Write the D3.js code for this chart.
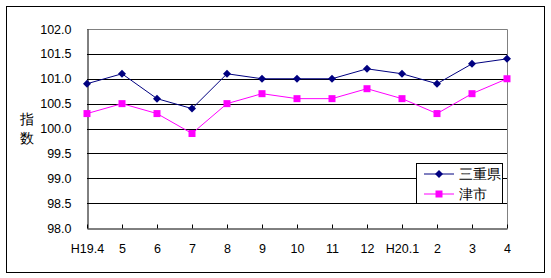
<!DOCTYPE html>
<html>
<head>
<meta charset="utf-8">
<script src="https://cdn.jsdelivr.net/npm/d3@7"></script>
<style>
  body { margin: 0; background: #fff; }
  text { font-family: "Liberation Sans", Arial, sans-serif; }
</style>
</head>
<body>
<div id="chart"></div>
<script>
const layout = {
    width: 551,
    height: 278,
    left: 87,
    right: 507,
    top: 29,
    bottom: 228
};

const months = ["H19.4", "5", "6", "7", "8", "9", "10", "11", "12", "H20.1", "2", "3", "4"];
const mie = [100.9, 101.1, 100.6, 100.4, 101.1, 101.0, 101.0, 101.0, 101.2, 101.1, 100.9, 101.3, 101.4];
const tsu = [100.3, 100.5, 100.3, 99.9, 100.5, 100.7, 100.6, 100.6, 100.8, 100.6, 100.3, 100.7, 101.0];
const yTicks = [98.0, 98.5, 99.0, 99.5, 100.0, 100.5, 101.0, 101.5, 102.0];

// diamond = square turned 45 degrees
const series = [
    { name: "三重県", values: mie, color: "#000080", size: 32, rotate: 45 },
    { name: "津市", values: tsu, color: "#ff00ff", size: 49, rotate: 0 }
];

let svg = d3.select("#chart").append("svg")
    .attr("width", layout.width)
    .attr("height", layout.height);

// outer frame
svg.append("rect")
    .attr("x", 6.5).attr("y", 6.5)
    .attr("width", 538).attr("height", 266)
    .attr("fill", "#fff").attr("stroke", "#000").attr("stroke-width", 1);

let x = d3.scalePoint().domain(months).range([layout.left, layout.right]);
let y = d3.scaleLinear().domain([98, 102]).range([layout.bottom, layout.top]);

// gridlines
svg.append("g").selectAll("line")
    .data(yTicks.slice(1, -1))
    .enter().append("line")
    .attr("x1", layout.left).attr("x2", layout.right)
    .attr("y1", d => Math.round(y(d)) + 0.5).attr("y2", d => Math.round(y(d)) + 0.5)
    .attr("stroke", "#000");

// top and right border (gray)
svg.append("path")
    .attr("d", `M${layout.left},${layout.top + 0.5}H${layout.right + 0.5}V${layout.bottom}`)
    .attr("fill", "none").attr("stroke", "#808080");

// y axis
let yAxis = svg.append("g")
    .attr("transform", `translate(${layout.left + 0.5},0)`)
    .call(d3.axisLeft(y).tickValues(yTicks).tickFormat(d3.format(".1f")).tickSize(0).tickPadding(16));
yAxis.select(".domain").attr("stroke", "#000");
yAxis.selectAll("text").attr("font-size", 12.5).attr("fill", "#000")
    .attr("font-family", "'Liberation Sans', Arial, sans-serif");

// x axis
let xAxis = svg.append("g")
    .attr("transform", `translate(0,${layout.bottom + 0.5})`)
    .call(d3.axisBottom(x).tickSizeInner(-4).tickSizeOuter(0).tickPadding(16));
xAxis.select(".domain").attr("stroke", "#000");
xAxis.selectAll("line").attr("stroke", "#000");
xAxis.selectAll("text").attr("font-size", 12.5).attr("fill", "#000")
    .attr("font-family", "'Liberation Sans', Arial, sans-serif");

// y axis title, stacked vertically
svg.append("text").attr("x", 27).attr("y", 124).attr("text-anchor", "middle")
    .attr("font-size", 14).attr("font-family", "'Noto Sans CJK JP', sans-serif").text("指");
svg.append("text").attr("x", 27).attr("y", 143).attr("text-anchor", "middle")
    .attr("font-size", 14).attr("font-family", "'Noto Sans CJK JP', sans-serif").text("数");

// lines and markers
let line = d3.line().x((d, i) => x(months[i])).y(d => y(d));
let marker = d3.symbol().type(d3.symbolSquare);
series.forEach(s => {
    svg.append("path")
        .datum(s.values)
        .attr("d", line)
        .attr("fill", "none")
        .attr("stroke", s.color)
        .attr("stroke-width", 1);
    svg.append("g").selectAll("path")
        .data(s.values)
        .enter().append("path")
        .attr("transform", (d, i) => `translate(${x(months[i])},${y(d)}) rotate(${s.rotate})`)
        .attr("d", marker.size(s.size)())
        .attr("fill", s.color);
});

// legend
let legend = svg.append("g");
legend.append("rect")
    .attr("x", 416.5).attr("y", 163.5)
    .attr("width", 86).attr("height", 40)
    .attr("fill", "#fff").attr("stroke", "#000").attr("stroke-width", 1);
series.forEach((s, i) => {
    let ly = 174 + i * 20;
    legend.append("line")
        .attr("x1", 424).attr("x2", 454)
        .attr("y1", ly).attr("y2", ly)
        .attr("stroke", s.color);
    legend.append("path")
        .attr("transform", `translate(439,${ly}) rotate(${s.rotate})`)
        .attr("d", marker.size(s.size)())
        .attr("fill", s.color);
    legend.append("text")
        .attr("x", 459).attr("y", ly + 5)
        .attr("font-size", 14)
        .attr("font-family", "'Noto Sans CJK JP', sans-serif")
        .text(s.name);
});
</script>
</body>
</html>
